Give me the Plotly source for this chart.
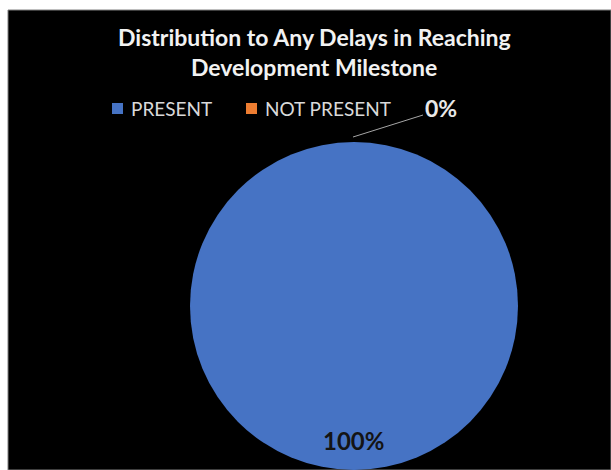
import plotly.graph_objects as go

# Share of children with any delay in reaching a development milestone
categories = ["PRESENT", "NOT PRESENT"]
values = [100, 0]
colors = ["#4673C4", "#ED7D31"]

title_lines = ["Distribution to Any Delays in Reaching", "Development Milestone"]

W, H = 611, 470
total = sum(values)
pct = [f"{round(v / total * 100)}%" for v in values]


def px(x):
    return x / W


def py(y):
    return 1 - y / H


fig = go.Figure()
fig.add_trace(go.Pie(
    labels=categories,
    values=values,
    marker=dict(colors=colors, line=dict(width=0)),
    textinfo="none",
    sort=False,
    direction="clockwise",
    rotation=0,
    domain=dict(x=[px(188), px(520)], y=[0.0, py(142)]),
    hoverinfo="label+percent",
    showlegend=False,
))

# Black chart area sitting on the white page
fig.add_shape(type="rect", xref="paper", yref="paper",
              x0=px(8), x1=1.0, y0=0.0, y1=py(10),
              fillcolor="black", line=dict(color="#7f7f7f", width=1),
              layer="below")

# Title, one annotation per line
for i, line in enumerate(title_lines):
    fig.add_annotation(text=line, xref="paper", yref="paper",
                       x=px(314), y=py(37 + 30 * i), xanchor="center", yanchor="middle",
                       showarrow=False,
                       font=dict(family="Lato", size=23, color="#f2f2f2", weight="bold"))

# Legend: coloured square followed by the category name
legend_x = [112, 246]
for name, col, x0 in zip(categories, colors, legend_x):
    fig.add_shape(type="rect", xref="paper", yref="paper",
                  x0=px(x0), x1=px(x0 + 11), y0=py(114), y1=py(103),
                  fillcolor=col, line=dict(width=0))
    fig.add_annotation(text=name, xref="paper", yref="paper",
                       x=px(x0 + 17), y=py(108), xanchor="left", yanchor="middle",
                       showarrow=False,
                       font=dict(family="Lato", size=19, color="#d9d9d9"))

# Leader line for the small slice label
fig.add_shape(type="line", xref="paper", yref="paper",
              x0=px(353), y0=py(137), x1=px(423), y1=py(115),
              line=dict(color="#a6a6a6", width=1))

fig.add_annotation(text=pct[1], xref="paper", yref="paper",
                   x=px(423), y=py(108), xanchor="left", yanchor="middle",
                   showarrow=False,
                   font=dict(family="Lato", size=23, color="#e8e8e8", weight="bold"))
fig.add_annotation(text=pct[0], xref="paper", yref="paper",
                   x=px(353), y=py(440), xanchor="center", yanchor="middle",
                   showarrow=False,
                   font=dict(family="Lato", size=24, color="#141414", weight="bold"))

fig.update_layout(
    width=W, height=H,
    margin=dict(l=0, r=0, t=0, b=0),
    paper_bgcolor="white",
    plot_bgcolor="black",
    showlegend=False,
)

fig.write_html("out.html")
